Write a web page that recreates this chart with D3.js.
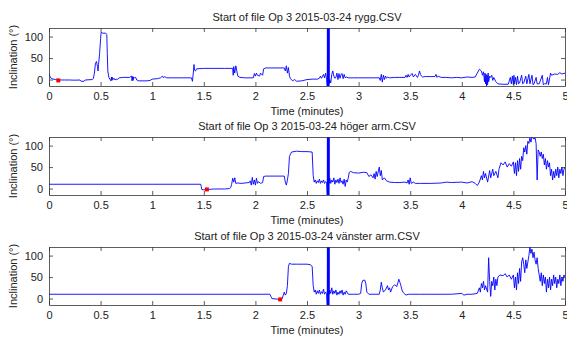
<!DOCTYPE html>
<html>
<head>
<meta charset="utf-8">
<script src="https://cdn.jsdelivr.net/npm/d3@7"></script>
<style>
  body { margin: 0; background: #fff; }
  text { font-family: "Liberation Sans", Arial, sans-serif; fill: #222; }
</style>
</head>
<body>
<script>
const width = 567;
const height = 339;

const titles = [
  "Start of file Op 3 2015-03-24 rygg.CSV",
  "Start of file Op 3 2015-03-24 höger arm.CSV",
  "Start of file Op 3 2015-03-24 vänster arm.CSV"
];
const xTicks = [0, 0.5, 1, 1.5, 2, 2.5, 3, 3.5, 4, 4.5, 5];
const yTicks = [0, 50, 100];

// dense oscillation at 2.7 min seen in all three files
const bar = [[2.696,-15],[2.698,120],[2.700,-15],[2.702,120],[2.704,-15],[2.706,120],
  [2.708,-15],[2.710,120],[2.712,-15],[2.714,120]];

const ryggA = [[0,14],[0.005,10],[0.015,4],[0.03,2],[0.06,0],[0.1,-1],[0.15,-1],[0.2,-1],[0.25,-1.5],
  [0.3,-1],[0.31,-4],[0.34,-4],[0.35,-1],[0.42,0],[0.43,3],[0.44,15],[0.45,38],[0.46,42],[0.47,30],
  [0.475,20],[0.48,35],[0.49,60],[0.5,95],[0.505,110],[0.52,108],[0.55,108],[0.56,105],[0.565,60],
  [0.57,20],[0.58,5],[0.59,1],[0.6,-3],[0.605,6],[0.61,-2],[0.615,5],[0.62,0],[0.63,3],[0.64,-1],
  [0.65,1],[0.66,0],[0.68,4],[0.72,5],[0.78,5],[0.8,8],[0.805,-3],[0.81,7],[0.815,-2],[0.82,6],
  [0.83,4],[0.84,5],[0.85,-1],[0.87,-3],[0.95,-3],[0.98,-2],[1.0,1],[1.05,2],[1.08,4],[1.1,8],
  [1.11,4],[1.12,7],[1.14,4],[1.2,4],[1.3,4],[1.38,4],[1.39,-4],[1.4,20],[1.405,35],[1.41,22],
  [1.42,20],[1.43,25],[1.5,26],[1.6,26],[1.7,26],[1.78,26],[1.785,10],[1.79,30],[1.8,15],[1.81,32],
  [1.82,20],[1.83,8],[1.85,5],[1.9,4],[1.98,4],[1.99,14],[2.0,8],[2.01,15],[2.02,10],[2.04,8],
  [2.05,15],[2.07,10],[2.08,25],[2.1,27],[2.2,27],[2.28,27],[2.29,20],[2.3,32],[2.31,15],[2.32,28],
  [2.33,8],[2.34,2],[2.36,-3],[2.38,0],[2.4,-4],[2.45,-3],[2.5,0],[2.55,1],[2.6,1],[2.62,3],
  [2.63,8],[2.64,3],[2.66,12],[2.67,4],[2.68,15],[2.69,0]];
const ryggB = [[2.715,-10],[2.72,0],[2.73,-8],[2.74,12],[2.75,20],[2.76,8],[2.77,3],[2.78,5],
  [2.79,15],[2.8,0],[2.81,14],[2.82,3],[2.83,12],[2.84,14],[2.85,2],[2.86,12],[2.87,4],[2.88,6],
  [2.9,4],[2.95,4],[3.0,4],[3.1,4],[3.2,4],[3.21,-2],[3.22,12],[3.23,-6],[3.24,10],[3.25,0],
  [3.26,8],[3.27,3],[3.28,6],[3.3,4],[3.35,5],[3.4,5],[3.45,5],[3.46,10],[3.47,5],[3.48,12],
  [3.49,6],[3.5,10],[3.52,14],[3.53,6],[3.55,12],[3.57,5],[3.58,10],[3.59,20],[3.6,12],[3.61,8],
  [3.62,6],[3.65,7],[3.7,7],[3.74,7],[3.75,12],[3.76,5],[3.77,8],[3.8,5],[3.85,5],[3.9,4],
  [3.95,5],[4.0,4],[4.05,6],[4.1,5],[4.13,6],[4.15,15],[4.17,24],[4.19,20],[4.2,10],[4.21,18],
  [4.22,-5],[4.225,15],[4.23,-10],[4.235,12],[4.24,-15],[4.245,10],[4.25,-12],[4.255,15],
  [4.26,-5],[4.27,8],[4.28,5],[4.29,10],[4.3,-2],[4.31,5],[4.33,-5],[4.35,-10],[4.4,-11],
  [4.45,-11],[4.47,5],[4.48,-10],[4.49,8],[4.5,-12],[4.505,10],[4.51,-10],[4.52,5],[4.53,-12],
  [4.54,8],[4.55,-10],[4.56,-8],[4.58,10],[4.59,-10],[4.6,-8],[4.62,8],[4.63,-10],[4.65,12],
  [4.66,-10],[4.68,10],[4.69,-12],[4.7,-10],[4.72,5],[4.73,-10],[4.75,-10],[4.78,10],[4.79,-12],
  [4.8,-10],[4.82,-10],[4.83,5],[4.84,-12],[4.86,15],[4.87,10],[4.9,13],[4.93,12],[4.95,16],
  [4.97,13],[5.0,15]];

const hogerA = [[0,10],[1.47,10],[1.475,5],[1.48,-2],[1.5,-3],[1.55,-2],[1.6,-1],[1.7,-1],[1.75,0],
  [1.76,2],[1.77,10],[1.78,24],[1.79,15],[1.8,25],[1.81,12],[1.83,13],[1.86,12],[1.9,13],[1.94,14],
  [1.95,18],[1.96,8],[1.97,26],[1.98,10],[1.99,20],[2.0,8],[2.01,24],[2.02,12],[2.03,16],[2.05,12],
  [2.07,14],[2.08,28],[2.1,29],[2.2,29],[2.28,29],[2.29,15],[2.3,8],[2.31,20],[2.32,35],[2.33,75],
  [2.35,85],[2.4,87],[2.45,86],[2.5,86],[2.55,85],[2.56,30],[2.57,15],[2.58,20],[2.59,12],[2.6,18],
  [2.61,14],[2.62,22],[2.63,12],[2.64,18],[2.65,14],[2.66,20],[2.67,12],[2.68,16],[2.69,14]];
const hogerB = [[2.715,12],[2.72,25],[2.73,12],[2.74,20],[2.75,15],[2.76,25],[2.77,10],[2.78,20],
  [2.79,14],[2.8,22],[2.81,12],[2.82,25],[2.83,14],[2.84,18],[2.85,10],[2.86,22],[2.87,5],[2.88,20],
  [2.89,15],[2.9,25],[2.91,38],[2.92,40],[2.95,37],[3.0,36],[3.05,38],[3.08,37],[3.1,28],[3.12,32],
  [3.14,25],[3.15,35],[3.16,22],[3.17,40],[3.18,28],[3.2,50],[3.21,30],[3.22,42],[3.23,20],[3.25,25],
  [3.27,18],[3.3,15],[3.35,14],[3.4,14],[3.45,15],[3.47,13],[3.48,20],[3.49,10],[3.5,25],[3.51,12],
  [3.53,15],[3.55,12],[3.6,12],[3.7,12],[3.8,13],[3.85,15],[3.9,14],[4.0,15],[4.05,13],[4.1,16],
  [4.13,12],[4.15,7],[4.17,15],[4.19,30],[4.2,20],[4.21,40],[4.22,25],[4.23,35],[4.25,15],[4.27,42],
  [4.28,25],[4.3,45],[4.31,30],[4.33,40],[4.35,25],[4.36,45],[4.38,60],[4.4,55],[4.42,62],[4.44,50],
  [4.46,58],[4.48,52],[4.5,62],[4.51,35],[4.52,60],[4.53,30],[4.54,65],[4.55,40],[4.56,70],[4.57,45],
  [4.58,75],[4.59,65],[4.6,95],[4.61,85],[4.62,100],[4.63,80],[4.64,110],[4.65,105],[4.66,118],
  [4.67,108],[4.68,120],[4.7,115],[4.71,118],[4.72,105],[4.73,20],[4.74,90],[4.75,85],[4.76,75],
  [4.77,85],[4.78,70],[4.79,80],[4.8,55],[4.81,70],[4.82,45],[4.83,65],[4.84,50],[4.85,60],[4.86,30],
  [4.87,45],[4.88,20],[4.89,40],[4.9,25],[4.91,45],[4.92,30],[4.93,50],[4.94,25],[4.95,45],[4.96,35],
  [4.97,50],[4.98,30],[4.99,45],[5.0,50]];

const vansterA = [[0,10],[2.14,10],[2.15,5],[2.16,0],[2.2,-1],[2.24,-2],[2.26,0],[2.27,8],[2.28,15],
  [2.29,8],[2.3,12],[2.31,30],[2.32,75],[2.33,82],[2.35,80],[2.4,80],[2.5,80],[2.53,79],[2.55,75],
  [2.56,30],[2.57,15],[2.58,20],[2.59,10],[2.6,18],[2.61,12],[2.62,20],[2.63,10],[2.64,16],[2.65,12],
  [2.66,22],[2.67,10],[2.68,15],[2.69,12]];
const vansterB = [[2.715,10],[2.72,20],[2.73,12],[2.74,25],[2.75,10],[2.76,18],[2.77,12],[2.78,20],
  [2.79,8],[2.8,15],[2.81,10],[2.82,18],[2.83,12],[2.84,20],[2.85,8],[2.86,15],[2.87,10],[2.88,18],
  [2.9,10],[2.95,10],[3.0,10],[3.02,12],[3.03,35],[3.04,42],[3.06,43],[3.07,35],[3.08,15],[3.1,10],
  [3.15,10],[3.2,10],[3.21,20],[3.22,38],[3.23,25],[3.24,15],[3.26,20],[3.28,30],[3.29,20],[3.3,25],
  [3.31,15],[3.33,28],[3.35,32],[3.37,28],[3.39,45],[3.4,38],[3.41,30],[3.42,20],[3.43,15],[3.44,12],
  [3.46,8],[3.48,10],[3.5,10],[3.6,10],[3.7,10],[3.8,10],[3.9,10],[4.0,12],[4.02,8],[4.05,10],
  [4.1,10],[4.15,12],[4.17,25],[4.18,15],[4.19,35],[4.2,25],[4.21,40],[4.22,20],[4.23,30],[4.25,15],
  [4.26,95],[4.27,40],[4.28,5],[4.29,40],[4.3,30],[4.31,50],[4.32,20],[4.33,45],[4.34,30],[4.35,50],
  [4.37,55],[4.4,53],[4.42,58],[4.44,50],[4.46,55],[4.48,45],[4.5,55],[4.51,25],[4.52,50],[4.53,20],
  [4.54,60],[4.55,35],[4.56,70],[4.57,40],[4.58,85],[4.59,95],[4.6,80],[4.61,60],[4.62,90],[4.63,70],
  [4.65,100],[4.66,120],[4.67,105],[4.68,115],[4.69,95],[4.7,108],[4.71,90],[4.72,80],[4.73,95],
  [4.74,70],[4.75,55],[4.76,40],[4.77,60],[4.78,30],[4.79,55],[4.8,35],[4.81,50],[4.82,15],[4.83,45],
  [4.84,25],[4.85,50],[4.86,20],[4.87,45],[4.88,30],[4.89,55],[4.9,35],[4.91,50],[4.92,25],[4.93,45],
  [4.94,35],[4.95,55],[4.96,30],[4.97,50],[4.98,40],[4.99,55],[5.0,50]];

const series = [
  ryggA.concat(bar, ryggB),
  hogerA.concat(bar, hogerB),
  vansterA.concat(bar, vansterB)
];
const markers = [[0.09, -2], [1.53, -2], [2.24, -2]];

const left = 49, right = 565, panelH = 58;
const panelTops = [28, 137, 247];

const svg = d3.select("body").append("svg")
  .attr("width", width)
  .attr("height", height);

const x = d3.scaleLinear().domain([0, 5]).range([left, right]);

panelTops.forEach((top, i) => {
  const y = d3.scaleLinear().domain([-15, 120]).range([top + panelH, top]);
  const g = svg.append("g");

  g.append("clipPath").attr("id", "clip" + i)
    .append("rect").attr("x", left).attr("y", top)
    .attr("width", right - left).attr("height", panelH);

  const line = d3.line().x(d => x(d[0])).y(d => y(d[1]));
  g.append("path")
    .datum(series[i])
    .attr("clip-path", `url(#clip${i})`)
    .attr("fill", "none")
    .attr("stroke", "#0000ff")
    .attr("stroke-width", 0.9)
    .attr("d", line);

  g.append("rect")
    .attr("x", x(markers[i][0]) - 2)
    .attr("y", y(markers[i][1]) - 2)
    .attr("width", 4).attr("height", 4)
    .attr("fill", "#ff0000");

  // axes: bottom/left with labels, top/right with ticks only (all inward)
  const ax = g.append("g").attr("transform", `translate(0,${top + panelH})`)
    .call(d3.axisBottom(x).tickValues(xTicks).tickFormat(d3.format("")).tickSizeInner(-4).tickSizeOuter(0).tickPadding(6));
  const axT = g.append("g").attr("transform", `translate(0,${top})`)
    .call(d3.axisTop(x).tickValues(xTicks).tickFormat("").tickSizeInner(-4).tickSizeOuter(0));
  const ay = g.append("g").attr("transform", `translate(${left},0)`)
    .call(d3.axisLeft(y).tickValues(yTicks).tickSizeInner(-4).tickSizeOuter(0).tickPadding(6));
  const ayR = g.append("g").attr("transform", `translate(${right},0)`)
    .call(d3.axisRight(y).tickValues(yTicks).tickFormat("").tickSizeInner(-4).tickSizeOuter(0));

  [ax, axT, ay, ayR].forEach(a => {
    a.selectAll("path").attr("stroke", "#333").attr("stroke-width", 0.8);
    a.selectAll("line").attr("stroke", "#333").attr("stroke-width", 0.8);
    a.selectAll("text").attr("font-size", 11).attr("fill", "#222")
      .attr("font-family", "Liberation Sans, Arial, sans-serif");
  });

  g.append("text")
    .attr("x", (left + right) / 2).attr("y", top - 7)
    .attr("text-anchor", "middle").attr("font-size", 11)
    .text(titles[i]);

  g.append("text")
    .attr("x", (left + right) / 2).attr("y", top + panelH + 29)
    .attr("text-anchor", "middle").attr("font-size", 11)
    .text("Time (minutes)");

  g.append("text")
    .attr("transform", `translate(17,${top + panelH / 2}) rotate(-90)`)
    .attr("text-anchor", "middle").attr("font-size", 11)
    .text("Inclination (°)");
});
</script>
</body>
</html>
